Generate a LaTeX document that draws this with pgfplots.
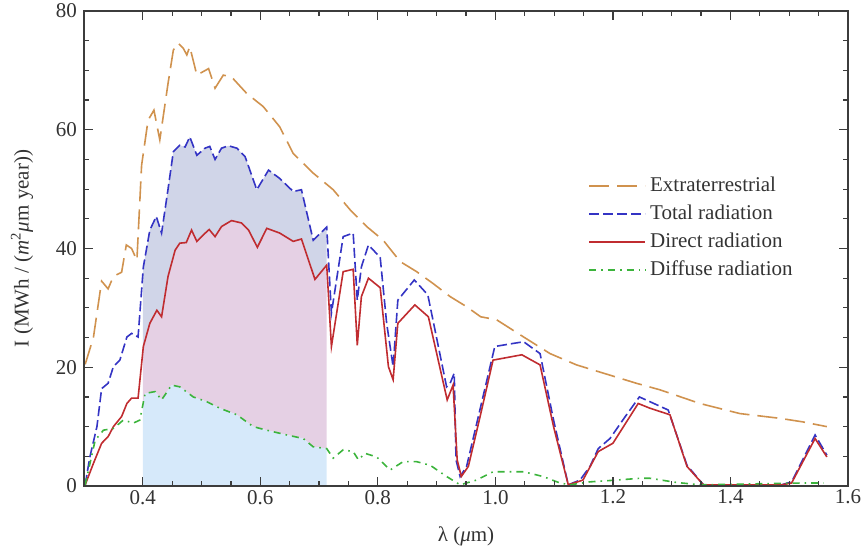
\documentclass[border=0pt]{standalone}
\usepackage{fontspec}
\setmainfont{Liberation Serif}
\usepackage{pgfplots}
\usepackage{pgfplotstable}
\pgfplotsset{compat=1.18}
\usepgfplotslibrary{fillbetween}
\definecolor{cExt}{RGB}{208,146,78}
\definecolor{cTot}{RGB}{52,52,196}
\definecolor{cDir}{RGB}{192,44,48}
\definecolor{cDif}{RGB}{60,180,60}
\definecolor{fTop}{RGB}{208,213,232}
\definecolor{fMid}{RGB}{229,208,228}
\definecolor{fBot}{RGB}{214,233,250}
\definecolor{axc}{RGB}{60,60,60}

\pgfplotstableread{
x y
0.302 20.5
0.316 25
0.330 34.5
0.341 33.2
0.350 35.3
0.364 36
0.372 40.6
0.381 40
0.390 38
0.398 54
0.409 61.6
0.419 63.3
0.429 58.3
0.443 67.8
0.452 73.4
0.460 74.6
0.469 73.7
0.475 72.6
0.480 74
0.492 69.2
0.512 70.3
0.523 67
0.537 69.2
0.551 68.9
0.577 66.1
0.605 63.9
0.633 60.5
0.656 56
0.690 52.7
0.724 49.9
0.753 46.5
0.781 43.7
0.809 41.4
0.838 37.8
0.866 36.1
0.894 34.1
0.923 31.9
0.951 30.2
0.975 28.5
1.002 28
1.048 25.1
1.093 22.3
1.138 20.4
1.184 19
1.240 17.3
1.280 16.2
1.348 13.9
1.416 12.2
1.484 11.4
1.523 10.8
1.564 10
}\tblExtra

\pgfplotstableread{
x y
0.302 0.2
0.310 4.9
0.322 10
0.330 16.4
0.341 17.3
0.350 20.1
0.361 21.2
0.373 25.1
0.381 25.7
0.392 25.1
0.401 36.9
0.412 43.1
0.423 45.4
0.432 42.6
0.443 50
0.452 56.3
0.463 57.4
0.472 57.1
0.480 58.8
0.492 55.7
0.506 56.9
0.514 57.2
0.523 55
0.534 56.9
0.546 57.3
0.560 56.9
0.574 55.5
0.594 49.9
0.614 53.2
0.633 51.8
0.656 49.6
0.670 49.9
0.690 41.4
0.713 43.6
0.721 29.1
0.741 42
0.758 42.6
0.765 31.3
0.772 36.9
0.784 40.6
0.804 38.5
0.815 27.4
0.826 20.1
0.834 31.3
0.862 34.7
0.885 32.2
0.917 16.7
0.923 17.3
0.930 19
0.933 4.4
0.940 1.6
0.951 3.3
0.971 11.7
0.999 23.5
1.048 24.3
1.076 22.3
1.099 11.1
1.124 0.2
1.144 1
1.161 3.3
1.175 6.3
1.195 8
1.221 11.7
1.245 15
1.263 14.2
1.294 12.8
1.326 3.5
1.354 0.2
1.405 0.2
1.487 0.2
1.504 0.7
1.544 8.6
1.564 5.2
}\tblTotal

\pgfplotstableread{
x y
0.302 0.2
0.316 3.8
0.330 7.2
0.341 8.3
0.350 10
0.364 11.7
0.373 13.9
0.381 14.8
0.392 14.8
0.401 23.5
0.412 27.4
0.424 29.6
0.432 28.5
0.443 35.3
0.455 39.7
0.463 40.9
0.474 41
0.483 43.1
0.492 41.2
0.503 42.3
0.513 43.2
0.523 42
0.534 43.7
0.551 44.7
0.568 44.3
0.580 43.1
0.595 40.2
0.611 43.4
0.633 42.6
0.656 41.2
0.670 41.6
0.693 34.8
0.713 37.2
0.721 23.5
0.741 36.1
0.758 36.5
0.765 23.7
0.772 31.9
0.784 35
0.804 33.4
0.818 20.1
0.826 17.9
0.834 27.4
0.863 30.5
0.886 28.5
0.918 14.5
0.928 17
0.935 4.4
0.942 1.6
0.954 3.3
0.974 11.7
0.996 21.2
1.045 22.1
1.076 20.4
1.099 10
1.124 0.2
1.149 1
1.175 5.8
1.200 7.2
1.243 13.9
1.263 13.1
1.297 12
1.326 3.3
1.354 0.2
1.487 0.2
1.504 0.5
1.544 8
1.564 4.9
}\tblDirect

\pgfplotstableread{
x y
0.302 0.2
0.319 7.7
0.333 9.4
0.350 9.7
0.367 11.1
0.384 10.6
0.395 11.1
0.404 15.6
0.421 15.9
0.432 14.5
0.449 17
0.463 16.7
0.486 15
0.509 14.2
0.531 13.1
0.560 12
0.588 10
0.611 9.4
0.645 8.6
0.673 8
0.690 6.6
0.713 6.3
0.724 4.7
0.741 6.1
0.758 5.8
0.767 4.4
0.778 5.5
0.798 4.9
0.821 2.7
0.843 4.1
0.866 4.1
0.889 3.5
0.917 1.6
0.940 0.2
0.968 1
0.996 2.4
1.048 2.4
1.081 1.6
1.110 0.5
1.127 0.2
1.161 0.7
1.206 1
1.246 1.3
1.263 1.3
1.308 0.6
1.348 0.2
1.518 0.5
1.558 0.5
}\tblDiffuse

\begin{document}
\begin{tikzpicture}
\begin{axis}[
  scale only axis,
  axis on top,
  width=382pt, height=237.5pt,
  xmin=0.3, xmax=1.6, ymin=0, ymax=80,
  xtick={0.4,0.6,...,1.61},
  ytick={0,20,40,60,80},
  minor x tick num=3,
  minor y tick num=3,
  xtick pos=both, ytick pos=both,
  tick align=inside,
  major tick length=4.5pt,
  minor tick length=2.5pt,
  axis line style={draw=axc, line width=0.6pt},
  tick style={draw=axc, line width=0.6pt},
  /pgf/number format/assume math mode=true,
  xticklabel style={/pgf/number format/fixed, /pgf/number format/fixed zerofill, /pgf/number format/precision=1, yshift=1.5pt},
  ticklabel style={font=\fontsize{10.5}{12.5}\selectfont, text=black!80},
  xlabel={λ (\textit{μ}m)},
  ylabel={I (MWh / (\textit{m}\textsuperscript{2}\textit{μ}m year))},
  label style={font=\fontsize{10.5}{12.5}\selectfont, text=black!80},
  xlabel style={at={(axis description cs:0.5,-0.107)}, anchor=center},
  ylabel style={at={(axis description cs:-0.081,0.5)}, anchor=center},
  legend style={at={(0.652,0.668)}, anchor=north west, draw=none, fill=none,
    font=\fontsize{10.5}{12.5}\selectfont, text=black!80, row sep=1.2pt},
  legend cell align=left,
  legend image code/.code={\draw[#1] (0pt,0pt) -- (28pt,0pt);},
]
\addplot[draw=none, name path=T, forget plot] table {\tblTotal};
\addplot[draw=none, name path=D, forget plot] table {\tblDirect};
\addplot[draw=none, name path=F, forget plot] table {\tblDiffuse};
\addplot[draw=none, name path=Z, forget plot] coordinates {(0.3,0) (1.6,0)};
\addplot[fill=fTop, draw=none, forget plot] fill between[of=T and D, soft clip={domain=0.4:0.713}];
\addplot[fill=fMid, draw=none, forget plot] fill between[of=D and F, soft clip={domain=0.4:0.713}];
\addplot[fill=fBot, draw=none, forget plot] fill between[of=F and Z, soft clip={domain=0.4:0.713}];

\addplot[cExt, line width=0.8pt, dash pattern=on 10pt off 4pt] table {\tblExtra};
\addlegendentry{Extraterrestrial}
\addplot[cTot, line width=0.8pt, dash pattern=on 5pt off 2pt] table {\tblTotal};
\addlegendentry{Total radiation}
\addplot[cDir, line width=0.8pt] table {\tblDirect};
\addlegendentry{Direct radiation}
\addplot[cDif, line width=0.8pt, dash pattern=on 3.5pt off 2.5pt on 0.8pt off 2.5pt] table {\tblDiffuse};
\addlegendentry{Diffuse radiation}
\end{axis}
\begin{axis}[
  scale only axis,
  width=382pt, height=237.5pt,
  xmin=0.3, xmax=1.6, ymin=0, ymax=80,
  xtick={0.4,0.6,...,1.61},
  ytick={0,20,40,60,80},
  minor x tick num=3,
  minor y tick num=3,
  xtick pos=both, ytick pos=both,
  tick align=inside,
  major tick length=4.5pt,
  minor tick length=2.5pt,
  axis line style={draw=axc, line width=0.6pt},
  tick style={draw=axc, line width=0.6pt},
  xticklabels={}, yticklabels={},
]
\end{axis}
\pgfresetboundingbox
\path ([shift={(-42pt,-36.5pt)}]current axis.south west) rectangle ([shift={(9.5pt,5.5pt)}]current axis.north east);
\end{tikzpicture}
\end{document}
